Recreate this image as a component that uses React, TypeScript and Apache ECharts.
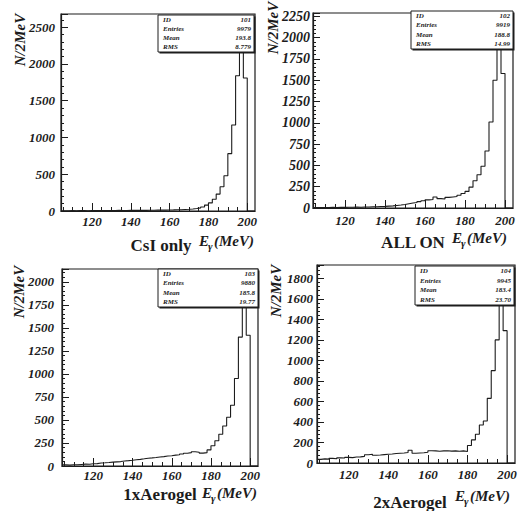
import React, { useEffect, useRef } from 'react';
import * as echarts from 'echarts';

// ---- data ----
const binEdges = [
  104, 106, 108, 110, 112, 114, 116, 118, 120, 122,
  124, 126, 128, 130, 132, 134, 136, 138, 140, 142,
  144, 146, 148, 150, 152, 154, 156, 158, 160, 162,
  164, 166, 168, 170, 172, 174, 176, 178, 180, 182,
  184, 186, 188, 190, 192, 194, 196, 198, 200, 202,
];
const xMin = 104;
const xMax = 204;

const countsCsIOnly = [
  4, 3, 5, 4, 6, 5, 4, 6, 5, 7,
  6, 5, 7, 6, 8, 7, 6, 8, 9, 8,
  10, 9, 11, 10, 12, 13, 12, 14, 15, 17,
  18, 21, 24, 28, 34, 42, 55, 80, 110, 160,
  230, 330, 480, 780, 1170, 1840, 2550, 1810, 0, 0,
];
const countsAllOn = [
  5, 4, 6, 5, 7, 6, 8, 7, 9, 8,
  10, 9, 11, 12, 14, 15, 17, 19, 22, 25,
  30, 35, 42, 50, 58, 65, 75, 85, 95, 100,
  130, 110, 105, 125, 130, 135, 150, 170, 195, 245,
  320, 390, 490, 670, 1010, 1500, 2180, 1580, 0, 0,
];
const counts1xAerogel = [
  12, 10, 14, 13, 17, 20, 19, 24, 26, 33,
  35, 38, 42, 45, 48, 55, 58, 62, 68, 72,
  78, 85, 88, 92, 98, 102, 108, 112, 118, 122,
  130, 138, 145, 155, 150, 140, 145, 175, 220, 275,
  345, 435, 530, 660, 950, 1400, 2030, 1420, 0, 0,
];
const counts2xAerogel = [
  35, 40, 38, 45, 42, 50, 48, 55, 52, 58,
  60, 65, 80, 85, 75, 78, 82, 85, 88, 92,
  95, 98, 102, 125, 95, 98, 100, 105, 120, 118,
  115, 118, 120, 116, 118, 115, 118, 112, 170, 225,
  280, 370, 410, 630, 900, 1200, 1840, 1290, 0, 0,
];
const allCounts = [countsCsIOnly, countsAllOn, counts1xAerogel, counts2xAerogel];

const panelTitles = ['CsI only', 'ALL ON', '1xAerogel', '2xAerogel'];
const statLabels = ['ID', 'Entries', 'Mean', 'RMS'];
const statIds = ['101', '102', '103', '104'];
const statEntries = ['9979', '9919', '9880', '9945'];
const statMeans = ['193.8', '188.8', '185.8', '183.4'];
const statRms = ['8.779', '14.99', '19.77', '23.70'];

const yMaxes = [2680, 2290, 2140, 1930];
const yIntervals = [500, 250, 250, 200];
const xMajorTicks = [120, 140, 160, 180, 200];
const xMinorTicks = [105, 110, 115, 125, 130, 135, 145, 150, 155, 165, 170, 175, 185, 190, 195];
const yAxisName = 'N/2MeV';

// ---- layout ----
const layouts = [
  { grid: { left: 61, top: 14, width: 194, height: 197 }, box: { x: 158, y: 15, w: 96, h: 37 }, title: [161, 245], ename: [199, 241], yname: [20, 40], yMargin: 6, xMargin: 4, yFont: 13 },
  { grid: { left: 313, top: 13, width: 200, height: 195 }, box: { x: 411, y: 11, w: 102, h: 38 }, title: [413, 242], ename: [452, 238], yname: [273, 28], yMargin: 3, xMargin: 6, yFont: 14 },
  { grid: { left: 62, top: 269, width: 196, height: 197 }, box: { x: 158, y: 269, w: 100, h: 38 }, title: [160, 494], ename: [202, 493], yname: [19, 292], yMargin: 8, xMargin: 3, yFont: 13 },
  { grid: { left: 317, top: 265, width: 198, height: 198 }, box: { x: 415, y: 266, w: 99, h: 39 }, title: [410, 502], ename: [455, 496], yname: [276, 291], yMargin: 4, xMargin: 5, yFont: 13 },
];

const SERIF = 'Liberation Serif';
const INK = '#1c1c1c';

const tickRich = (size: number) => ({
  t: { fontFamily: SERIF, fontStyle: 'italic', fontWeight: 'bold', fontSize: size, color: INK },
});

export default function App() {
  const ref = useRef<HTMLDivElement>(null);
  useEffect(() => {
    if (!ref.current) return;
    const chart = echarts.init(ref.current, null, { renderer: 'svg' });

    const grid: any[] = [];
    const xAxis: any[] = [];
    const yAxis: any[] = [];
    const series: any[] = [];
    const graphic: any[] = [];

    layouts.forEach((L, i) => {
      grid.push({ ...L.grid, show: true, borderColor: INK, borderWidth: 1.2, backgroundColor: 'transparent' });
      xAxis.push({
        type: 'value', gridIndex: i, min: xMin, max: xMax, position: 'bottom',
        axisLine: { show: true, lineStyle: { color: INK, width: 1.2 } },
        axisTick: { show: true, inside: true, length: 8, customValues: xMajorTicks, lineStyle: { color: INK, width: 1 } },
        axisLabel: {
          show: true, customValues: xMajorTicks, margin: L.xMargin, color: INK,
          fontFamily: SERIF, fontStyle: 'italic', fontWeight: 'bold', fontSize: 13,
          formatter: (v: number) => '{t|' + String(v) + '}',
          rich: tickRich(13),
        },
        splitLine: { show: false },
      });
      xAxis.push({
        type: 'value', gridIndex: i, min: xMin, max: xMax, position: 'bottom',
        axisLine: { show: false },
        axisTick: { show: true, inside: true, length: 4, customValues: xMinorTicks, lineStyle: { color: INK, width: 1 } },
        axisLabel: { show: false },
        splitLine: { show: false },
      });
      yAxis.push({
        type: 'value', gridIndex: i, min: 0, max: yMaxes[i], interval: yIntervals[i],
        axisLine: { show: true, lineStyle: { color: INK, width: 1.2 } },
        axisTick: { show: true, inside: true, length: 7, lineStyle: { color: INK, width: 1 } },
        minorTick: { show: true, splitNumber: 5, length: 3, lineStyle: { color: INK, width: 1 } },
        axisLabel: {
          margin: L.yMargin, color: INK, fontFamily: SERIF, fontStyle: 'italic',
          fontWeight: 'bold', fontSize: L.yFont, showMaxLabel: false,
          formatter: (v: number) => '{t|' + String(v) + '}',
          rich: tickRich(L.yFont),
        },
        splitLine: { show: false },
        minorSplitLine: { show: false },
      });
      const counts = allCounts[i];
      const data = binEdges.map((e, k) => [e, counts[k]]);
      data.push([xMax, 0]);
      series.push({
        type: 'line', xAxisIndex: 2 * i, yAxisIndex: i, step: 'end',
        showSymbol: false, symbol: 'none', data, clip: true,
        lineStyle: { color: INK, width: 1.1 }, z: 3,
      });

      // stat box
      const b = L.box;
      graphic.push({ type: 'rect', z: 100, shape: { x: b.x + 1.5, y: b.y + 1.5, width: b.w, height: b.h }, style: { fill: INK } });
      graphic.push({ type: 'rect', z: 101, shape: { x: b.x, y: b.y, width: b.w, height: b.h }, style: { fill: '#fff', stroke: INK, lineWidth: 1 } });
      const vals = [statIds[i], statEntries[i], statMeans[i], statRms[i]];
      statLabels.forEach((lab, r) => {
        const cy = b.y + (r + 0.5) * b.h / 4;
        graphic.push({ type: 'text', z: 102, x: b.x + 5, y: cy, style: { text: lab, fill: INK, fontFamily: SERIF, fontStyle: 'italic', fontWeight: 'bold', fontSize: 7, textAlign: 'left', textVerticalAlign: 'middle' } });
        graphic.push({ type: 'text', z: 102, x: b.x + b.w - 3, y: cy, style: { text: vals[r], fill: INK, fontFamily: SERIF, fontStyle: 'italic', fontWeight: 'bold', fontSize: 7, textAlign: 'right', textVerticalAlign: 'middle' } });
      });

      // title
      graphic.push({ type: 'text', z: 102, x: L.title[0], y: L.title[1], style: { text: panelTitles[i], fill: INK, fontFamily: SERIF, fontWeight: 'bold', fontSize: 17, textAlign: 'center', textVerticalAlign: 'middle' } });

      // E_gamma (MeV)
      const [ex, ey] = L.ename;
      graphic.push({ type: 'text', z: 102, x: ex, y: ey, style: { text: 'E', fill: INK, fontFamily: SERIF, fontStyle: 'italic', fontWeight: 'bold', fontSize: 15, textAlign: 'left', textVerticalAlign: 'middle' } });
      graphic.push({ type: 'text', z: 102, x: ex + 9, y: ey + 5, style: { text: 'γ', fill: INK, fontFamily: SERIF, fontStyle: 'italic', fontWeight: 'bold', fontSize: 11, textAlign: 'left', textVerticalAlign: 'middle' } });
      graphic.push({ type: 'text', z: 102, x: ex + 15, y: ey, style: { text: '(MeV)', fill: INK, fontFamily: SERIF, fontStyle: 'italic', fontWeight: 'bold', fontSize: 15, textAlign: 'left', textVerticalAlign: 'middle' } });

      // y axis name
      graphic.push({ type: 'text', z: 102, x: L.yname[0], y: L.yname[1], rotation: Math.PI / 2, style: { text: yAxisName, fill: INK, fontFamily: SERIF, fontStyle: 'italic', fontWeight: 'bold', fontSize: 15, textAlign: 'center', textVerticalAlign: 'middle' } });
    });

    chart.setOption({
      animation: false,
      backgroundColor: '#ffffff',
      textStyle: { fontFamily: SERIF, fontStyle: 'italic', fontWeight: 'bold' },
      grid, xAxis, yAxis, series, graphic,
    });
    return () => chart.dispose();
  }, []);
  return <div ref={ref} style={{ position: 'fixed', left: 0, top: 0, width: 520, height: 511, background: '#fff' }} />;
}
